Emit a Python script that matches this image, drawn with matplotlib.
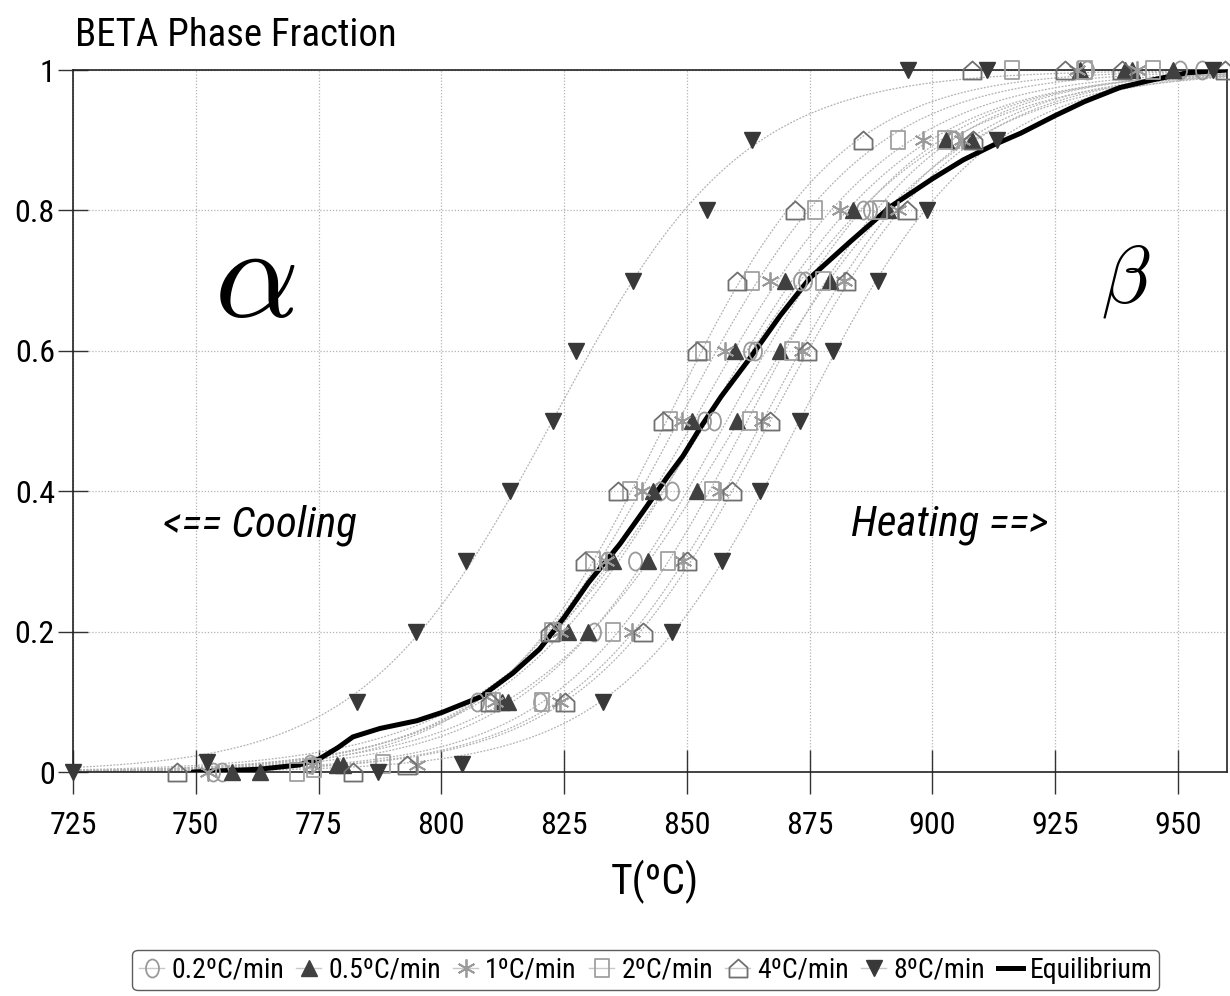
import numpy as np
import matplotlib
matplotlib.use("Agg")
import matplotlib.pyplot as plt
from matplotlib import font_manager as fm
from matplotlib.path import Path
from matplotlib.transforms import Affine2D
from matplotlib.lines import Line2D


def pick_font(names):
    for n in names:
        try:
            fm.findfont(fm.FontProperties(family=n), fallback_to_default=False)
            return n
        except ValueError:
            pass
    return "DejaVu Sans"


FONT = pick_font(["Liberation Sans Narrow", "Roboto Condensed", "Liberation Sans", "DejaVu Sans"])
plt.rcParams["font.family"] = [FONT, "DejaVu Sans"]

# ---- data -------------------------------------------------------------
FRAC = [0.1, 0.2, 0.3, 0.4, 0.5, 0.6, 0.7, 0.8, 0.9]
RATES = ["0.2", "0.5", "1", "2", "4", "8"]

# transformation temperatures (ºC) at each fraction in FRAC
cool_02 = [807.3, 822.6, 833.8, 844.5, 853.5, 862.9, 873.1, 885.9, 904.0]
heat_02 = [820.1, 831.1, 839.5, 847.0, 855.5, 863.8, 874.0, 887.3, 904.5]
cool_05 = [812.4, 825.8, 835.0, 843.1, 851.1, 859.8, 870.0, 883.9, 902.8]
heat_05 = [813.6, 829.9, 842.1, 852.1, 860.2, 869.0, 879.2, 891.0, 908.1]
cool_1 = [811.0, 824.2, 833.5, 840.9, 849.0, 857.8, 867.0, 881.2, 898.1]
heat_1 = [824.2, 838.8, 849.2, 856.8, 865.3, 873.5, 882.0, 893.0, 906.0]
cool_2 = [810.5, 822.6, 830.9, 838.4, 846.6, 853.3, 863.3, 876.1, 893.0]
heat_2 = [820.5, 835.0, 846.2, 855.1, 862.9, 871.4, 877.7, 889.4, 902.5]
cool_4 = [809.9, 822.2, 829.3, 836.0, 845.2, 852.1, 860.2, 872.0, 885.9]
heat_4 = [825.2, 841.1, 850.1, 859.2, 867.0, 874.5, 882.4, 894.9, 908.3]
cool_8 = [782.8, 794.9, 805.0, 814.0, 822.8, 827.5, 839.0, 854.1, 863.3]
heat_8 = [832.9, 847.0, 857.2, 864.9, 873.1, 879.8, 889.0, 899.0, 913.2]

# start / end readings (temperature, fraction)
ends_02 = [(753.5, 0.0), (755.3, 0.0), (773.3, 0.012), (931.5, 1.0), (950.5, 1.0), (954.9, 1.0)]
ends_05 = [(757.4, 0.0), (763.1, 0.0), (778.8, 0.01), (780.0, 0.01),
           (930.1, 1.0), (939.3, 1.0), (940.7, 1.0), (949.0, 1.0)]
ends_1 = [(752.5, 0.0), (773.6, 0.01), (795.1, 0.01), (929.5, 1.0), (941.7, 1.0)]
ends_2 = [(770.6, 0.0), (774.0, 0.005), (788.1, 0.012), (916.2, 1.0), (931.1, 1.0), (945.0, 1.0)]
ends_4 = [(746.2, 0.0), (782.0, 0.0), (793.0, 0.01), (908.1, 1.0), (927.0, 1.0),
          (938.6, 1.0), (959.6, 1.0)]
ends_8 = [(725.0, 0.0), (752.3, 0.014), (787.1, 0.0), (804.2, 0.012),
          (895.1, 1.0), (911.2, 1.0), (957.2, 1.0)]

# equilibrium beta fraction
eq_T = [749.4, 763, 771, 775, 779, 782, 787.5, 795, 800.2, 808, 814.6, 820, 825, 830,
        836.4, 842, 846, 849.2, 852.7, 857, 862.9, 869, 875.1, 883.2, 891.4, 900,
        906.3, 912.4, 918, 925, 931, 938.2, 944.9, 951.9, 960]
eq_f = [0.0, 0.004, 0.01, 0.018, 0.035, 0.05, 0.062, 0.073, 0.085, 0.107, 0.141, 0.175,
        0.22, 0.27, 0.325, 0.38, 0.42, 0.45, 0.49, 0.535, 0.59, 0.65, 0.704, 0.755,
        0.805, 0.845, 0.872, 0.893, 0.91, 0.935, 0.955, 0.975, 0.986, 0.996, 1.0]

# ---- marker shapes ------------------------------------------------------
ellipse = Affine2D().scale(0.72, 1.0).transform_path(Path.unit_circle())
rect = Path([(-0.8, -1), (0.8, -1), (0.8, 1), (-0.8, 1), (-0.8, -1)],
            [Path.MOVETO, Path.LINETO, Path.LINETO, Path.LINETO, Path.CLOSEPOLY])
house = Path([(-1, -1), (1, -1), (1, 0.1), (0, 1), (-1, 0.1), (-1, -1)],
             [Path.MOVETO, Path.LINETO, Path.LINETO, Path.LINETO, Path.LINETO, Path.CLOSEPOLY])

STYLE = {
    "0.2": dict(marker=ellipse, mfc="none", mec="#9a9a9a", ms=13, mew=1.3),
    "0.5": dict(marker="^", mfc="#404040", mec="#404040", ms=12, mew=1.0),
    "1": dict(marker=(6, 2, 0), mfc="none", mec="#9a9a9a", ms=13, mew=1.3),
    "2": dict(marker=rect, mfc="none", mec="#a0a0a0", ms=13, mew=1.3),
    "4": dict(marker=house, mfc="none", mec="#707070", ms=13, mew=1.3),
    "8": dict(marker="v", mfc="#383838", mec="#383838", ms=12, mew=1.0),
}

SERIES = {
    "0.2": (cool_02, heat_02, ends_02),
    "0.5": (cool_05, heat_05, ends_05),
    "1": (cool_1, heat_1, ends_1),
    "2": (cool_2, heat_2, ends_2),
    "4": (cool_4, heat_4, ends_4),
    "8": (cool_8, heat_8, ends_8),
}

# ---- figure -------------------------------------------------------------
fig = plt.figure(figsize=(12.3, 9.96), dpi=100)
ax = fig.add_axes([73 / 1230, 224 / 996, 1154 / 1230, 702 / 996])
ax.set_xlim(725, 960)
ax.set_ylim(0, 1)

Tgrid = np.linspace(725, 960, 400)
frac = np.array(FRAC)
logit = np.log(frac / (1 - frac))

# logistic trend line through each cooling / heating set
for r in RATES:
    cool, heat, ends = SERIES[r]
    for temps in (cool, heat):
        k, b = np.polyfit(np.array(temps), logit, 1)
        ax.plot(Tgrid, 1 / (1 + np.exp(-(k * Tgrid + b))), color="#b2b2b2",
                lw=0.9, ls=(0, (1.5, 1.2)), zorder=2)

ax.plot(eq_T, eq_f, color="black", lw=3.6, solid_capstyle="round", zorder=4)

for r in RATES:
    cool, heat, ends = SERIES[r]
    st = STYLE[r]
    xs = list(cool) + list(heat) + [e[0] for e in ends]
    ys = FRAC + FRAC + [e[1] for e in ends]
    ax.plot(xs, ys, ls="none", clip_on=False, zorder=5, **st)

ax.set_xticks(np.arange(725, 951, 25))
ax.set_yticks([0, 0.2, 0.4, 0.6, 0.8, 1.0])
ax.set_yticklabels(["0", "0.2", "0.4", "0.6", "0.8", "1"])
ax.grid(True, color="#b4b4b4", lw=0.9, ls=(0, (1, 1.5)), zorder=1)
ax.tick_params(direction="inout", width=1.0, color="#333333", labelsize=23)
ax.tick_params(axis="x", length=32, pad=12)
ax.tick_params(axis="y", length=22, pad=2)
for s in ax.spines.values():
    s.set_color("#222222")
    s.set_linewidth(1.2)

ax.text(762.1, 0.70, r"$\alpha$", math_fontfamily="cm", fontsize=95,
        ha="center", va="center")
ax.text(939.3, 0.70, r"$\beta$", math_fontfamily="cm", fontsize=58,
        ha="center", va="center")
ax.text(763.1, 0.352, "<== Cooling", fontsize=31, style="italic", ha="center", va="center")
ax.text(903.6, 0.352, "Heating ==>", fontsize=31, style="italic", ha="center", va="center")

fig.text(75 / 1230, 1 - 35 / 996, "BETA Phase Fraction", fontsize=28, ha="left", va="center")
fig.text(655 / 1230, 1 - 882 / 996, "T(ºC)", fontsize=30, ha="center", va="center")

handles = []
for r in RATES:
    st = STYLE[r]
    handles.append(Line2D([], [], color="#c8c8c8", lw=1.0, **st))
handles.append(Line2D([], [], color="black", lw=3.6))
labels = [f"{r}ºC/min" for r in RATES] + ["Equilibrium"]
leg = fig.legend(handles, labels, loc="lower center", bbox_to_anchor=(0.525, 0.0),
                 ncol=7, fontsize=20, frameon=True, fancybox=True, handlelength=0.9,
                 handletextpad=0.25, columnspacing=0.45, borderpad=0.25,
                 borderaxespad=0.2)
leg.get_frame().set_edgecolor("#333333")
leg.get_frame().set_linewidth(1.0)

fig.savefig("out.png", dpi=100)
